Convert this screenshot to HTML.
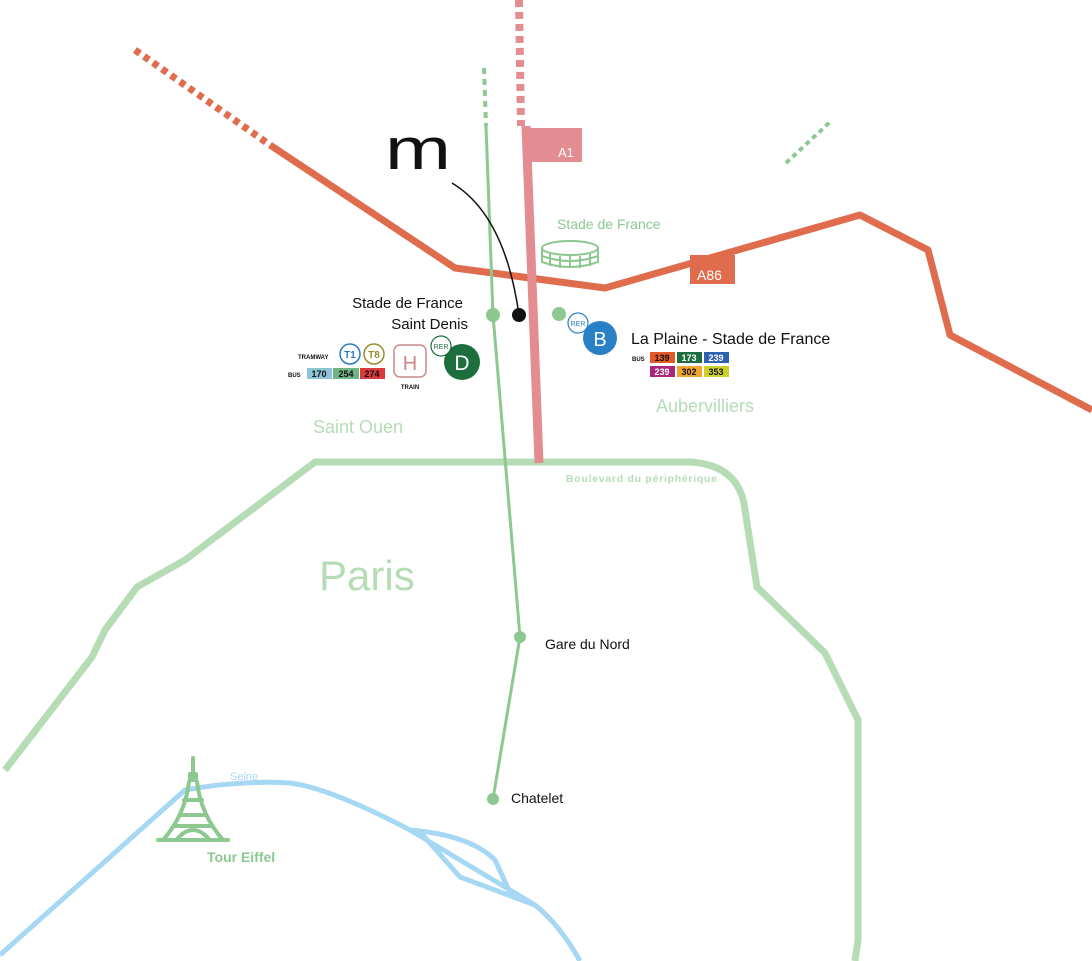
<!DOCTYPE html>
<html><head><meta charset="utf-8"><style>
body{margin:0;background:#fff}
svg{display:block}
text{font-family:"Liberation Sans",sans-serif}
</style></head><body>
<svg width="1092" height="961" viewBox="0 0 1092 961" xmlns="http://www.w3.org/2000/svg">
<g fill="none" stroke="#a6d8f4" stroke-width="5">
<path d="M0,955 L185,790 Q240,780 290,783 Q330,788 410,830 L535,905 Q560,925 580,961"/>
<path d="M410,830 Q470,835 495,860 L512,897"/>
<path d="M420,832 L460,877 L535,905"/>
</g>
<text x="230" y="780" font-size="11" fill="#a6d8f4">Seine</text>
<path d="M5,770 L92,657 L105,630 L137,587 L185,560 L315,462 L690,462 Q740,465 745,510 L757,587 L825,653 L858,720 L858,940 L855,961" fill="none" stroke="#b6dcb6" stroke-width="7"/>
<text x="566" y="482" font-size="10.5" font-weight="bold" fill="#b6dcb6" textLength="151">Boulevard du périphérique</text>
<path d="M135,50 L270,145" stroke="#df6c4c" stroke-width="7" stroke-dasharray="6,5" fill="none"/>
<path d="M270,145 L455,268 L605,288 L860,215 L928,250 L950,335 L1092,410" stroke="#df6c4c" stroke-width="7" fill="none" stroke-linejoin="round"/>
<rect x="690" y="255" width="45" height="29" fill="#df6c4c"/>
<text x="697" y="280" font-size="14" fill="#fff">A86</text>
<path d="M519,0 L521,126" stroke="#e38d92" stroke-width="8" stroke-dasharray="7,5" fill="none"/>
<path d="M526,126 L539,463" stroke="#e38d92" stroke-width="9" fill="none"/>
<rect x="523" y="128" width="59" height="34" fill="#e38d92"/>
<text x="558" y="157" font-size="13" fill="#fff">A1</text>
<path d="M484,68 L486,126" stroke="#8cc890" stroke-width="4" stroke-dasharray="6,5" fill="none"/>
<path d="M486,126 L493,315 L520,637 L493,799" stroke="#8cc890" stroke-width="3" fill="none"/>
<path d="M786,163 L830,122" stroke="#8cc890" stroke-width="4" stroke-dasharray="5,4" fill="none"/>
<circle cx="493" cy="315" r="7" fill="#8cc890"/>
<circle cx="520" cy="637" r="6" fill="#8cc890"/>
<circle cx="493" cy="799" r="6" fill="#8cc890"/>
<circle cx="559" cy="314" r="7" fill="#8cc890"/>
<text x="545" y="649" font-size="14" fill="#111">Gare du Nord</text>
<text x="511" y="803" font-size="14" fill="#111">Chatelet</text>
<text x="385" y="169" font-family="Liberation Serif,serif" font-size="58" fill="#111" textLength="66" lengthAdjust="spacingAndGlyphs">m</text>
<path d="M452,183 Q505,215 519,315" stroke="#111" stroke-width="1.5" fill="none"/>
<circle cx="519" cy="315" r="7" fill="#111"/>
<text x="463" y="308" font-size="15" text-anchor="end" fill="#111">Stade de France</text>
<text x="468" y="329" font-size="15" text-anchor="end" fill="#111">Saint Denis</text>
<text x="313" y="433" font-size="18" fill="#b6dcb6">Saint Ouen</text>
<text x="656" y="412" font-size="18" fill="#b6dcb6">Aubervilliers</text>
<text x="319" y="590" font-size="42" fill="#b6dcb6">Paris</text>
<text x="557" y="229" font-size="14" fill="#8cc890">Stade de France</text>
<g fill="none" stroke="#8cc890" stroke-width="2">
<ellipse cx="570" cy="248" rx="28" ry="7"/>
<path d="M542,248 L542,262 Q570,272 598,262 L598,248"/>
<path d="M550,254 L550,266 M560,256 L560,268 M570,256 L570,268 M580,256 L580,268 M590,254 L590,266 M542,256 Q570,266 598,256"/>
</g>
<text x="298" y="359" font-size="6" font-weight="bold" fill="#111">TRAMWAY</text>
<text x="288" y="377" font-size="6" font-weight="bold" fill="#111">BUS</text>
<circle cx="350" cy="354" r="10" fill="#fff" stroke="#2a7ac2" stroke-width="1.5"/>
<text x="350" y="358" font-size="10" font-weight="bold" fill="#2a7ac2" text-anchor="middle">T1</text>
<circle cx="374" cy="354" r="10" fill="#fff" stroke="#9a8a2a" stroke-width="1.5"/>
<text x="374" y="358" font-size="10" font-weight="bold" fill="#9a8a2a" text-anchor="middle">T8</text>
<rect x="307" y="368" width="25" height="11" fill="#8dc5d6"/>
<rect x="333" y="368" width="26" height="11" fill="#6fb586"/>
<rect x="360" y="368" width="25" height="11" fill="#d93a3a"/>
<text x="319" y="377" font-size="9" font-weight="bold" text-anchor="middle" fill="#111">170</text>
<text x="346" y="377" font-size="9" font-weight="bold" text-anchor="middle" fill="#111">254</text>
<text x="372" y="377" font-size="9" font-weight="bold" text-anchor="middle" fill="#111">274</text>
<rect x="394" y="345" width="32" height="32" rx="6" fill="#fff" stroke="#c98a8a" stroke-width="1.5"/>
<text x="410" y="370" font-size="20" text-anchor="middle" fill="#c98a8a">H</text>
<text x="410" y="389" font-size="6" font-weight="bold" text-anchor="middle" fill="#111">TRAIN</text>
<circle cx="462" cy="362" r="18" fill="#1d6e3e"/>
<text x="462" y="370" font-size="21" text-anchor="middle" fill="#fff">D</text>
<circle cx="441" cy="346" r="10" fill="#fff" stroke="#1d6e3e" stroke-width="1.2"/>
<text x="441" y="349" font-size="7" text-anchor="middle" fill="#1d6e3e">RER</text>
<circle cx="600" cy="338" r="17" fill="#2a80c4"/>
<text x="600" y="346" font-size="20" text-anchor="middle" fill="#fff">B</text>
<circle cx="578" cy="323" r="10" fill="#fff" stroke="#2a80c4" stroke-width="1.2"/>
<text x="578" y="326" font-size="7" text-anchor="middle" fill="#2a80c4">RER</text>
<text x="631" y="344" font-size="16" fill="#111">La Plaine - Stade de France</text>
<text x="632" y="361" font-size="6" font-weight="bold" fill="#111">BUS</text>
<rect x="650" y="352" width="25" height="11" fill="#e4582a"/>
<rect x="677" y="352" width="25" height="11" fill="#1d6e3e"/>
<rect x="704" y="352" width="25" height="11" fill="#2f62ae"/>
<rect x="650" y="366" width="25" height="11" fill="#a8287e"/>
<rect x="677" y="366" width="25" height="11" fill="#f0a52c"/>
<rect x="704" y="366" width="25" height="11" fill="#cfcf2c"/>
<g font-size="9" font-weight="bold" text-anchor="middle">
<text x="662" y="361" fill="#111">139</text><text x="689" y="361" fill="#fff">173</text><text x="716" y="361" fill="#fff">239</text>
<text x="662" y="375" fill="#fff">239</text><text x="689" y="375" fill="#111">302</text><text x="716" y="375" fill="#111">353</text>
</g>
<g fill="none" stroke="#8cc890" stroke-width="4" stroke-linecap="round">
<path d="M193,758 L193,772"/>
<rect x="188" y="772" width="10" height="10" rx="2" fill="#8cc890" stroke="none"/>
<path d="M189,782 Q185,815 163,840 M197,782 Q201,815 223,840"/>
<path d="M184,800 L202,800 M180,815 L206,815 M174,826 L212,826"/>
<path d="M158,840 L228,840"/>
<path d="M178,838 Q193,822 208,838"/>
</g>
<text x="207" y="862" font-size="14" font-weight="bold" fill="#8cc890">Tour Eiffel</text>
</svg>
</body></html>
